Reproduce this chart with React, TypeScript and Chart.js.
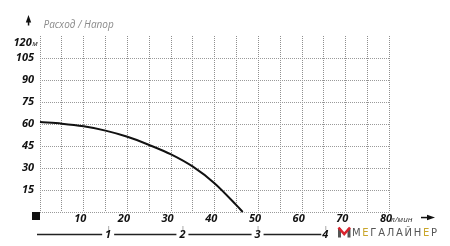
import React, { useEffect, useRef } from 'react';
import { Chart, registerables } from 'chart.js';
Chart.register(...registerables);

// Curve: flow (l/min) vs head (m)
const flowLpm = [0, 5, 10, 15, 20, 25, 30, 35, 40, 45, 46.4];
const headM = [61.3, 60.2, 58.4, 55.5, 51.3, 45.7, 39.3, 30.9, 19.5, 4.5, 0];

const yTickLabels = [15, 30, 45, 60, 75, 90, 105, 120];
const xTickLabels = [10, 20, 30, 40, 50, 60, 70, 80];
const m3hLabels = ['1', '2', '3', '4'];
const m3hPositionsLpm = [15.6, 32.6, 49.8, 65.3];

const yAxisTitle = 'Расход / Напор';
const yUnit = 'м';
const xUnit = 'л/мин';
const brand = 'МЕГАЛАЙНЕР';

const FONT = "'Open Sans', 'DejaVu Sans', sans-serif";

const decorPlugin = {
  id: 'decor',
  afterDraw(chart: any) {
    const ctx = chart.ctx as CanvasRenderingContext2D;
    const xs = chart.scales.x;
    const ys = chart.scales.y;
    ctx.save();

    ctx.fillStyle = '#111';
    ctx.beginPath();
    ctx.moveTo(28.5, 15);
    ctx.lineTo(25.8, 22.5);
    ctx.lineTo(31.2, 22.5);
    ctx.closePath();
    ctx.fill();
    ctx.fillRect(27.8, 22, 1.5, 3.5);

    ctx.font = `italic 10px ${FONT}`;
    ctx.fillStyle = '#8a8a8a';
    ctx.textBaseline = 'middle';
    ctx.textAlign = 'left';
    ctx.fillText(yAxisTitle, 43.5, 25.5);

    const topVal = yTickLabels[yTickLabels.length - 1];
    const ty = ys.getPixelForValue(topVal) + 6.7;
    ctx.fillStyle = '#111';
    ctx.font = `italic bold 11px ${FONT}`;
    ctx.textAlign = 'right';
    ctx.fillText(String(topVal), 31.7, ty);
    ctx.font = `italic 8px ${FONT}`;
    ctx.textAlign = 'left';
    ctx.fillText(yUnit, 32.3, ty + 0.8);

    const lastX = xs.getPixelForValue(xTickLabels[xTickLabels.length - 1]);
    ctx.font = `italic 8px ${FONT}`;
    ctx.fillStyle = '#333';
    ctx.textBaseline = 'middle';
    ctx.fillText(xUnit, lastX + 1, ys.bottom + 7.5);

    const ay = ys.bottom + 5.5;
    ctx.fillStyle = '#111';
    ctx.fillRect(421, ay - 0.7, 7, 1.5);
    ctx.beginPath();
    ctx.moveTo(435, ay);
    ctx.lineTo(427, ay - 2.8);
    ctx.lineTo(427, ay + 2.8);
    ctx.closePath();
    ctx.fill();

    ctx.fillRect(32, ys.bottom, 8, 8);

    const ly = 234.5;
    const px = m3hPositionsLpm.map((v) => xs.getPixelForValue(v));
    ctx.strokeStyle = '#222';
    ctx.lineWidth = 1.3;
    ctx.beginPath();
    let start = 37;
    px.forEach((p, i) => {
      const gapL = i === px.length - 1 ? 4 : 6;
      ctx.moveTo(start, ly);
      ctx.lineTo(p - gapL, ly);
      start = p + 6;
    });
    ctx.stroke();
    ctx.lineWidth = 1;
    ctx.strokeStyle = '#555';
    ctx.setLineDash([1, 1]);
    px.forEach((p) => {
      ctx.beginPath();
      ctx.moveTo(p + 0.5, 226.5);
      ctx.lineTo(p + 0.5, 230);
      ctx.stroke();
    });
    ctx.setLineDash([]);
    ctx.font = `italic bold 11px ${FONT}`;
    ctx.fillStyle = '#111';
    ctx.textAlign = 'center';
    ctx.textBaseline = 'middle';
    px.forEach((p, i) => ctx.fillText(m3hLabels[i], p, ly + 0.5));

    ctx.fillStyle = '#555';
    ctx.fillRect(338, 228.5, 3, 9);
    ctx.fillRect(347.5, 228.5, 3, 9);
    ctx.strokeStyle = '#d9232d';
    ctx.lineWidth = 2.6;
    ctx.lineJoin = 'miter';
    ctx.beginPath();
    ctx.moveTo(338.5, 227.5);
    ctx.lineTo(344.2, 234);
    ctx.lineTo(350, 227.5);
    ctx.stroke();

    ctx.font = `10px 'DejaVu Sans', sans-serif`;
    ctx.textAlign = 'left';
    ctx.textBaseline = 'middle';
    const target = 85;
    let natural = 0;
    for (const ch of brand) natural += ctx.measureText(ch).width;
    const extra = Math.max(0, (target - natural) / (brand.length - 1));
    let bx = 352;
    for (const ch of brand) {
      ctx.fillStyle = ch === 'Е' ? '#c9a62a' : '#555';
      ctx.fillText(ch, bx, 233);
      bx += ctx.measureText(ch).width + extra;
    }

    ctx.restore();
  },
};

export default function App() {
  const ref = useRef<HTMLCanvasElement>(null);
  useEffect(() => {
    if (!ref.current) return;
    const tickFont = { family: FONT, size: 11, weight: 'bold' as const, style: 'italic' as const };
    const topVal = yTickLabels[yTickLabels.length - 1];
    const chart = new Chart(ref.current, {
      type: 'line',
      data: {
        datasets: [
          {
            data: flowLpm.map((x, i) => ({ x, y: headM[i] })),
            borderColor: '#111',
            borderWidth: 2,
            pointRadius: 0,
            cubicInterpolationMode: 'monotone',
            fill: false,
            clip: false as any,
          },
        ],
      },
      options: {
        animation: false,
        responsive: false,
        devicePixelRatio: 1,
        layout: { padding: { left: 0, right: 60.5, top: 36, bottom: 0 } },
        plugins: { legend: { display: false }, tooltip: { enabled: false } },
        scales: {
          x: {
            type: 'linear',
            min: 0,
            max: 80,
            afterFit: (s: any) => {
              s.height = 34;
            },
            border: { display: false, dash: [1, 1] },
            grid: {
              drawTicks: false,
              lineWidth: 1,
              color: '#8f8f8f',
            },
            ticks: {
              stepSize: 5,
              autoSkip: false,
              maxRotation: 0,
              padding: 0,
              labelOffset: -3.5,
              color: '#111',
              font: tickFont,
              callback: (v: any) => (xTickLabels.includes(Number(v)) ? String(v) : ''),
            },
          },
          y: {
            type: 'linear',
            min: 0,
            max: 120,
            afterFit: (s: any) => {
              s.width = 40;
            },
            border: { display: false, dash: [1, 1] },
            grid: {
              drawTicks: false,
              color: '#9a9a9a',
              lineWidth: (c: any) => (c.tick && c.tick.value === topVal ? 0 : 1),
            },
            ticks: {
              stepSize: 15,
              padding: 6,
              color: '#111',
              font: tickFont,
              callback: (v: any) =>
                yTickLabels.includes(Number(v)) && Number(v) !== topVal ? String(v) : '',
            },
          },
        },
      },
      plugins: [decorPlugin],
    });
    return () => chart.destroy();
  }, []);
  return (
    <div style={{ position: 'absolute', left: 0, top: 0, width: 450, height: 246, background: '#fff' }}>
      <canvas ref={ref} width={450} height={246} style={{ display: 'block', width: 450, height: 246 }} />
    </div>
  );
}
